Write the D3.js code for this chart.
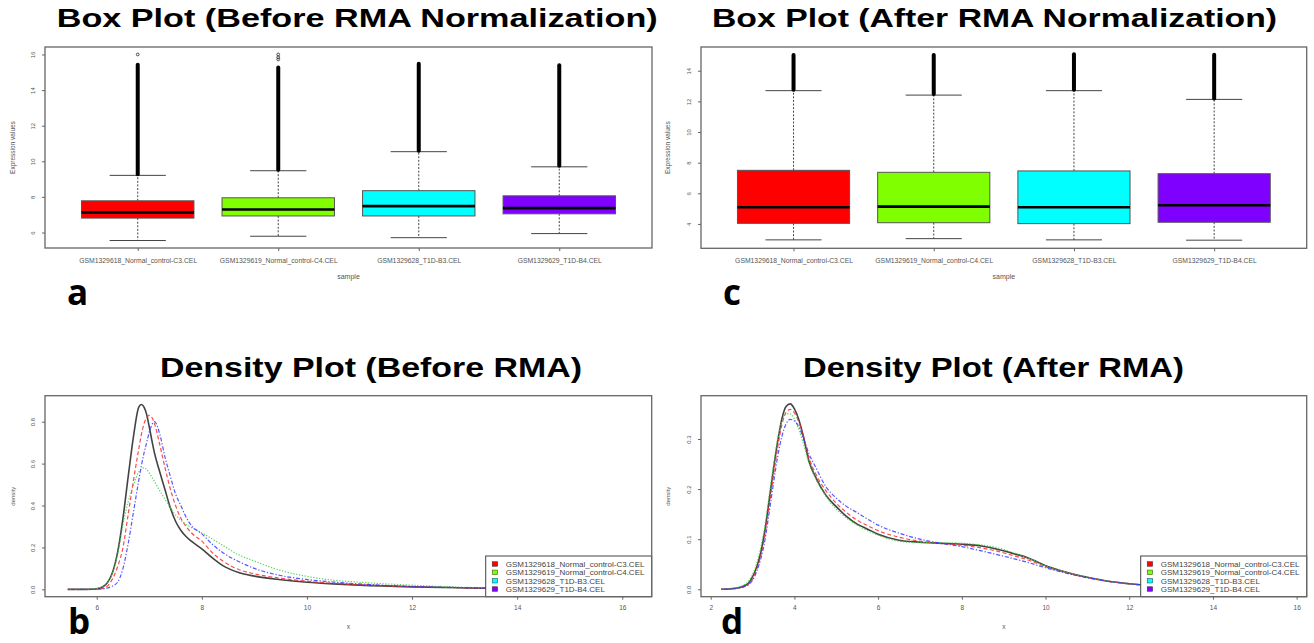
<!DOCTYPE html>
<html><head><meta charset="utf-8">
<script src="https://cdn.jsdelivr.net/npm/d3@7"></script>
<style>body{margin:0;background:#fff}svg{display:block}</style>
</head><body>
<svg id="chart" width="1314" height="643"></svg>
<script>
// ---------- data ----------
const samples = ["GSM1329618_Normal_control-C3.CEL","GSM1329619_Normal_control-C4.CEL","GSM1329628_T1D-B3.CEL","GSM1329629_T1D-B4.CEL"];
const boxColors = ["#FF0000","#80FF00","#00FFFF","#8000FF"];

// Box plot before RMA
const beforeLowWhisker  = [5.55, 5.79, 5.71, 5.94];
const beforeQ1          = [6.81, 6.93, 6.93, 7.05];
const beforeMedian      = [7.13, 7.29, 7.48, 7.37];
const beforeQ3          = [7.78, 7.95, 8.35, 8.06];
const beforeHighWhisker = [9.21, 9.47, 10.54, 9.69];
const beforeOutlierTop  = [15.42, 15.27, 15.48, 15.40];
const beforeExtraOutliers = [[16.0], [15.72, 15.84, 16.0], [], []];
const beforeYTicks = [6, 8, 10, 12, 14, 16];

// Box plot after RMA
const afterLowWhisker  = [2.96, 3.04, 2.96, 2.94];
const afterQ1          = [4.04, 4.08, 4.02, 4.11];
const afterMedian      = [5.09, 5.13, 5.09, 5.22];
const afterQ3          = [7.50, 7.37, 7.46, 7.28];
const afterHighWhisker = [12.70, 12.41, 12.70, 12.13];
const afterOutlierTop  = [15.02, 15.02, 15.07, 15.05];
const afterExtraOutliers = [[], [], [], []];
const afterYTicks = [4, 6, 8, 10, 12, 14];

// Density before RMA
const beforeGrid = [5.45,5.8,6.0,6.1,6.2,6.3,6.4,6.5,6.6,6.7,6.8,6.85,6.9,6.95,7.0,7.05,7.1,7.2,7.3,7.4,7.5,7.6,7.7,7.8,8.0,8.2,8.4,8.7,9.0,9.5,10.0,10.5,11.0,12.0,13.0,14.0,15.0,16.2];
const beforeDensBlack = [0,0,0.003,0.01,0.03,0.08,0.18,0.34,0.54,0.73,0.87,0.882,0.87,0.835,0.775,0.71,0.65,0.56,0.475,0.39,0.325,0.282,0.252,0.23,0.193,0.15,0.113,0.08,0.063,0.046,0.034,0.026,0.02,0.012,0.007,0.004,0.002,0];
const beforeDensRed   = [0,0,0.001,0.004,0.015,0.05,0.11,0.2,0.36,0.52,0.67,0.74,0.79,0.82,0.83,0.82,0.79,0.69,0.58,0.48,0.40,0.34,0.30,0.27,0.23,0.175,0.135,0.095,0.074,0.053,0.039,0.029,0.022,0.013,0.008,0.004,0.002,0];
const beforeDensGreen = [0,0.001,0.004,0.012,0.03,0.08,0.17,0.31,0.42,0.5,0.56,0.575,0.58,0.572,0.555,0.535,0.515,0.47,0.43,0.39,0.355,0.33,0.31,0.295,0.27,0.24,0.21,0.165,0.135,0.09,0.062,0.044,0.034,0.02,0.01,0.005,0.002,0];
const beforeDensBlue  = [0,0,0,0.002,0.006,0.016,0.035,0.1,0.22,0.37,0.52,0.59,0.65,0.70,0.75,0.785,0.80,0.74,0.63,0.54,0.455,0.40,0.345,0.305,0.265,0.215,0.175,0.133,0.1,0.066,0.047,0.035,0.026,0.014,0.008,0.004,0.002,0];
const beforeXTicks = [6, 8, 10, 12, 14, 16];
const beforeDensYTicks = [0, 0.2, 0.4, 0.6, 0.8];

// Density after RMA
const afterGrid = [2.25,2.5,2.75,2.9,3.0,3.1,3.2,3.3,3.4,3.5,3.6,3.7,3.8,3.9,4.0,4.1,4.2,4.35,4.5,4.75,5.0,5.25,5.5,5.75,6.0,6.5,7.0,7.5,8.0,8.5,8.8,9.2,9.6,10.0,10.5,11.0,11.5,12.0,13.0,14.0,15.0,15.5];
const afterDensBlack = [0,0.001,0.005,0.012,0.025,0.045,0.075,0.12,0.18,0.24,0.295,0.34,0.365,0.37,0.36,0.34,0.31,0.255,0.225,0.188,0.165,0.145,0.13,0.12,0.11,0.098,0.094,0.092,0.09,0.086,0.081,0.072,0.062,0.047,0.034,0.024,0.016,0.011,0.005,0.002,0.0005,0];
const afterDensRed   = [0,0.001,0.004,0.01,0.02,0.04,0.068,0.11,0.168,0.228,0.283,0.328,0.353,0.359,0.352,0.335,0.31,0.262,0.232,0.197,0.172,0.153,0.138,0.127,0.117,0.104,0.096,0.091,0.088,0.082,0.077,0.068,0.058,0.045,0.033,0.023,0.016,0.011,0.005,0.002,0.0005,0];
const afterDensGreen = [0,0.002,0.007,0.016,0.03,0.052,0.085,0.13,0.19,0.248,0.3,0.335,0.35,0.35,0.34,0.32,0.295,0.252,0.222,0.186,0.16,0.142,0.128,0.117,0.108,0.096,0.093,0.093,0.092,0.088,0.084,0.074,0.062,0.047,0.034,0.024,0.016,0.011,0.005,0.002,0.0005,0];
const afterDensBlue  = [0,0.001,0.004,0.009,0.018,0.036,0.062,0.1,0.155,0.212,0.265,0.305,0.33,0.339,0.336,0.325,0.305,0.27,0.245,0.205,0.182,0.165,0.153,0.14,0.128,0.112,0.1,0.092,0.085,0.076,0.07,0.062,0.053,0.043,0.032,0.023,0.016,0.011,0.005,0.002,0.0005,0];
const afterXTicks = [2, 4, 6, 8, 10, 12, 14, 16];
const afterDensYTicks = [0, 0.1, 0.2, 0.3];

const titles = ["Box Plot (Before RMA Normalization)", "Box Plot (After RMA Normalization)", "Density Plot (Before RMA)", "Density Plot (After RMA)"];
const panelLetters = ["a", "c", "b", "d"];

// ---------- drawing ----------
const svg = d3.select("#chart");
const smallFont = "'Liberation Sans', Arial, sans-serif";
const txtCol = "#555";
const frameCol = "#666";

function fitTitle(text, x0, width, baseline, size) {
  svg.append("text").attr("x", x0).attr("y", baseline)
    .attr("font-family", smallFont).attr("font-weight", "bold")
    .attr("font-size", size).attr("fill", "#000")
    .attr("textLength", width).attr("lengthAdjust", "spacingAndGlyphs")
    .text(text);
}

function panelLetter(t, x, y) {
  svg.append("text").attr("x", x).attr("y", y)
    .attr("font-family", "'Open Sans', sans-serif").attr("font-weight", 700)
    .attr("font-size", 35).attr("fill", "#000").text(t);
}

function yAxisRotated(g, y, ticks, fmt) {
  const ax = g.append("g").call(d3.axisLeft(y).tickValues(ticks).tickSize(3).tickFormat(fmt));
  ax.select(".domain").remove();
  ax.selectAll(".tick line").attr("stroke", frameCol);
  ax.selectAll(".tick text")
    .attr("x", null).attr("dy", null)
    .attr("text-anchor", "middle")
    .attr("transform", "translate(-9.8,0) rotate(-90)")
    .attr("font-family", smallFont).attr("font-size", 6).attr("fill", txtCol);
}

function boxPanel(frame, yDomain, yTicks, st, ylabX) {
  const x = d3.scaleLinear().domain([0.34, 4.66]).range([frame.x0, frame.x1]);
  const y = d3.scaleLinear().domain(yDomain).range([frame.y1, frame.y0]);
  const g = svg.append("g");
  const idx = d3.range(4);
  const bw = 0.4, cw = 0.2;
  idx.forEach(i => {
    const cx = x(i + 1);
    g.append("line").attr("x1", cx).attr("x2", cx).attr("y1", y(st.q3[i])).attr("y2", y(st.hi[i]))
      .attr("stroke", "#444").attr("stroke-dasharray", "2,1.6").attr("stroke-width", 1);
    g.append("line").attr("x1", cx).attr("x2", cx).attr("y1", y(st.q1[i])).attr("y2", y(st.lo[i]))
      .attr("stroke", "#444").attr("stroke-dasharray", "2,1.6").attr("stroke-width", 1);
    [st.hi[i], st.lo[i]].forEach(v => {
      g.append("line").attr("x1", x(i + 1 - cw)).attr("x2", x(i + 1 + cw)).attr("y1", y(v)).attr("y2", y(v))
        .attr("stroke", "#444").attr("stroke-width", 1);
    });
    g.append("line").attr("x1", cx).attr("x2", cx).attr("y1", y(st.hi[i]) - 1).attr("y2", y(st.outTop[i]))
      .attr("stroke", "#000").attr("stroke-width", 4).attr("stroke-linecap", "round");
    st.extra[i].forEach(v => {
      g.append("circle").attr("cx", cx).attr("cy", y(v)).attr("r", 1.4)
        .attr("fill", "none").attr("stroke", "#222").attr("stroke-width", 0.8);
    });
    g.append("rect").attr("x", x(i + 1 - bw)).attr("width", x(i + 1 + bw) - x(i + 1 - bw))
      .attr("y", y(st.q3[i])).attr("height", y(st.q1[i]) - y(st.q3[i]))
      .attr("fill", boxColors[i]).attr("stroke", "#555").attr("stroke-width", 1);
    g.append("line").attr("x1", x(i + 1 - bw)).attr("x2", x(i + 1 + bw)).attr("y1", y(st.med[i])).attr("y2", y(st.med[i]))
      .attr("stroke", "#000").attr("stroke-width", 2.6);
  });
  g.append("rect").attr("x", frame.x0).attr("y", frame.y0).attr("width", frame.x1 - frame.x0).attr("height", frame.y1 - frame.y0)
    .attr("fill", "none").attr("stroke", frameCol).attr("stroke-width", 1.3);
  const ya = g.append("g").attr("transform", `translate(${frame.x0},0)`);
  yAxisRotated(ya, y, yTicks, d3.format("d"));
  const xa = g.append("g").attr("transform", `translate(0,${frame.y1})`)
    .call(d3.axisBottom(x).tickValues([1, 2, 3, 4]).tickSize(3).tickPadding(7).tickFormat((d, i) => samples[i]));
  xa.select(".domain").remove();
  xa.selectAll(".tick line").attr("stroke", frameCol);
  xa.selectAll(".tick text").attr("font-family", smallFont).attr("font-size", 6.8).attr("fill", txtCol);
  g.append("text").attr("x", (frame.x0 + frame.x1) / 2).attr("y", frame.y1 + 31)
    .attr("text-anchor", "middle").attr("font-family", smallFont).attr("font-size", 7).attr("fill", txtCol).text("sample");
  g.append("text").attr("transform", `translate(${ylabX},${(frame.y0 + frame.y1) / 2}) rotate(-90)`)
    .attr("text-anchor", "middle").attr("font-family", smallFont).attr("font-size", 6.5).attr("fill", txtCol).text("Expression values");
}

function densityPanel(frame, xDomain, yDomain, xTicks, yTicks, yFmt, grid, series, ylabX) {
  const x = d3.scaleLinear().domain(xDomain).range([frame.x0, frame.x1]);
  const y = d3.scaleLinear().domain(yDomain).range([frame.y1, frame.y0]);
  const g = svg.append("g");
  const styles = [
    {stroke: "#222", width: 1.6, dash: null},
    {stroke: "#ff2a2a", width: 1.2, dash: "4,2.5"},
    {stroke: "#3fcf3f", width: 1.2, dash: "1.3,1.6"},
    {stroke: "#3a3aff", width: 1.2, dash: "1.3,1.8,4,1.8"}
  ];
  const line = d3.line().x(d => x(d[0])).y(d => y(d[1])).curve(d3.curveMonotoneX);
  series.forEach((s, k) => {
    g.append("path").datum(grid.map((gx, j) => [gx, s[j]]))
      .attr("d", line).attr("fill", "none")
      .attr("stroke", styles[k].stroke).attr("stroke-width", styles[k].width)
      .attr("stroke-dasharray", styles[k].dash).attr("stroke-opacity", 0.85);
  });
  const lw = 166, lh = 40.7;
  const lx = frame.x1 - lw, ly = frame.y1 - lh;
  g.append("rect").attr("x", lx).attr("y", ly).attr("width", lw).attr("height", lh)
    .attr("fill", "#fff").attr("stroke", "#444").attr("stroke-width", 1);
  samples.forEach((s, i) => {
    const cy = ly + 8 + i * 8.35;
    g.append("rect").attr("x", lx + 6.5).attr("y", cy - 2.3).attr("width", 5.5).attr("height", 4.6)
      .attr("fill", boxColors[i]).attr("stroke", "#333").attr("stroke-width", 0.5);
    g.append("text").attr("x", lx + 20).attr("y", cy + 2.9)
      .attr("font-family", smallFont).attr("font-size", 8).attr("fill", "#444").text(s);
  });
  g.append("rect").attr("x", frame.x0).attr("y", frame.y0).attr("width", frame.x1 - frame.x0).attr("height", frame.y1 - frame.y0)
    .attr("fill", "none").attr("stroke", frameCol).attr("stroke-width", 1.3);
  const ya = g.append("g").attr("transform", `translate(${frame.x0},0)`);
  yAxisRotated(ya, y, yTicks, yFmt);
  const xa = g.append("g").attr("transform", `translate(0,${frame.y1})`)
    .call(d3.axisBottom(x).tickValues(xTicks).tickSize(3).tickPadding(6).tickFormat(d3.format("d")));
  xa.select(".domain").remove();
  xa.selectAll(".tick line").attr("stroke", frameCol);
  xa.selectAll(".tick text").attr("font-family", smallFont).attr("font-size", 6.5).attr("fill", txtCol);
  g.append("text").attr("x", (frame.x0 + frame.x1) / 2).attr("y", frame.y1 + 32)
    .attr("text-anchor", "middle").attr("font-family", smallFont).attr("font-size", 6.5).attr("fill", txtCol).text("x");
  g.append("text").attr("transform", `translate(${ylabX},${(frame.y0 + frame.y1) / 2}) rotate(-90)`)
    .attr("text-anchor", "middle").attr("font-family", smallFont).attr("font-size", 6).attr("fill", txtCol).text("density");
}

boxPanel({x0: 45, x1: 652, y0: 47, y1: 248}, [5.13, 16.42], beforeYTicks,
  {lo: beforeLowWhisker, q1: beforeQ1, med: beforeMedian, q3: beforeQ3, hi: beforeHighWhisker, outTop: beforeOutlierTop, extra: beforeExtraOutliers}, 15);
boxPanel({x0: 701, x1: 1306.7, y0: 47, y1: 248.3}, [2.41, 15.55], afterYTicks,
  {lo: afterLowWhisker, q1: afterQ1, med: afterMedian, q3: afterQ3, hi: afterHighWhisker, outTop: afterOutlierTop, extra: afterExtraOutliers}, 670);
densityPanel({x0: 45, x1: 651.7, y0: 395.7, y1: 596.7}, [5.016, 16.56], [-0.035, 0.924], beforeXTicks, beforeDensYTicks, d3.format(".1f"),
  beforeGrid, [beforeDensBlack, beforeDensRed, beforeDensGreen, beforeDensBlue], 15);
densityPanel({x0: 701, x1: 1306.7, y0: 395.7, y1: 596.7}, [1.768, 16.24], [-0.0148, 0.3864], afterXTicks, afterDensYTicks, d3.format(".1f"),
  afterGrid, [afterDensBlack, afterDensRed, afterDensGreen, afterDensBlue], 670);

fitTitle(titles[0], 56.7, 601, 27.3, 25.5);
fitTitle(titles[1], 712, 565, 27.3, 25.5);
fitTitle(titles[2], 160, 422, 377, 28);
fitTitle(titles[3], 803, 381, 377, 28);

panelLetter(panelLetters[0], 67, 305);
panelLetter(panelLetters[1], 723, 305);
panelLetter(panelLetters[2], 68, 633.5);
panelLetter(panelLetters[3], 721, 633.5);
</script>
</body></html>
